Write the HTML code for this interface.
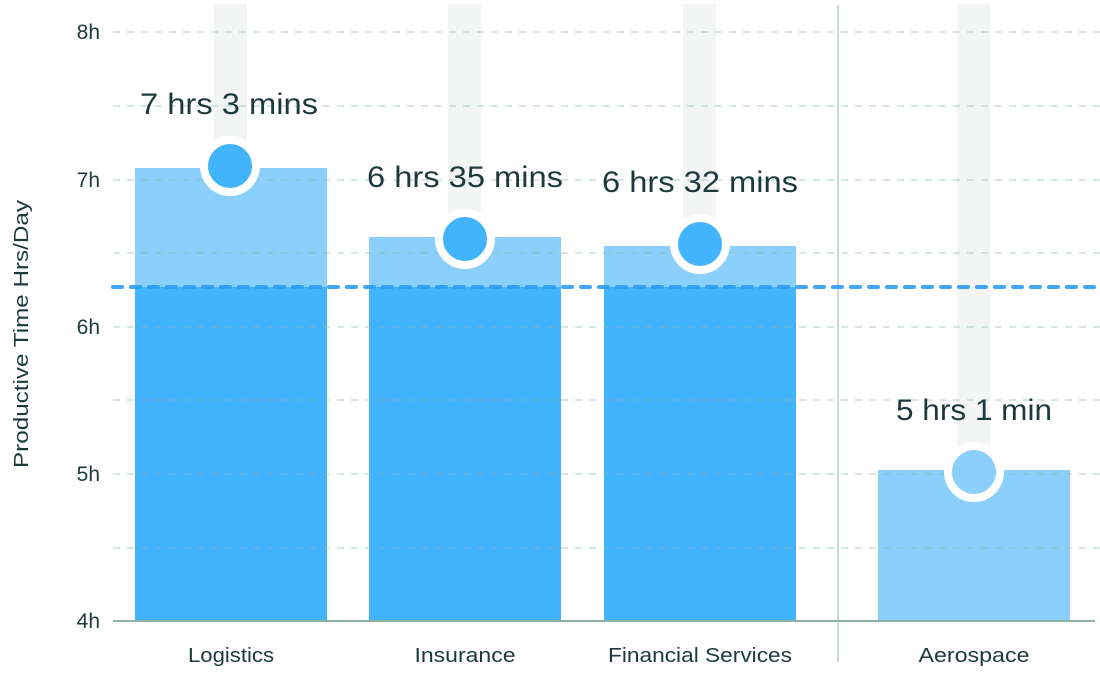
<!DOCTYPE html>
<html><head><meta charset="utf-8"><style>
html,body{margin:0;padding:0;background:#fff;}
svg{display:block;font-family:"Liberation Sans",sans-serif;}
</style></head><body>
<svg width="1100" height="680" viewBox="0 0 1100 680">
<g fill="#f2f5f4">
<rect x="214" y="4" width="33" height="160"/>
<rect x="448" y="4" width="33" height="235"/>
<rect x="683" y="4" width="33" height="240"/>
<rect x="957" y="4" width="33" height="470"/>
</g>
<g fill="#8bd0fc">
<rect x="135" y="168" width="192" height="453"/>
<rect x="369" y="237" width="192" height="384"/>
<rect x="604" y="246" width="192" height="375"/>
<rect x="878" y="470" width="192" height="151"/>
</g>
<g fill="#42b4fd">
<rect x="135" y="287" width="192" height="334"/>
<rect x="369" y="287" width="192" height="334"/>
<rect x="604" y="287" width="192" height="334"/>
</g>
<g stroke="#8fb8ab" stroke-width="1.3" stroke-dasharray="7,7" opacity="0.55">
<line x1="113" y1="32" x2="1100" y2="32"/>
<line x1="113" y1="106" x2="1100" y2="106"/>
<line x1="113" y1="180" x2="1100" y2="180"/>
<line x1="113" y1="253" x2="1100" y2="253"/>
<line x1="113" y1="327" x2="1100" y2="327"/>
<line x1="113" y1="400" x2="1100" y2="400"/>
<line x1="113" y1="474" x2="1100" y2="474"/>
<line x1="113" y1="548" x2="1100" y2="548"/>
</g>
<line x1="838" y1="5" x2="838" y2="662" stroke="#b5cdc6" stroke-width="1.5"/>
<line x1="113" y1="621" x2="1095" y2="621" stroke="#8fb0a8" stroke-width="2"/>
<line x1="113" y1="287" x2="1100" y2="287" stroke="#2e9cf4" stroke-width="4" stroke-dasharray="9,9" stroke-linecap="round" opacity="0.9"/>
<g stroke="#fff" stroke-width="8">
<circle cx="230" cy="166" r="26" fill="#42b4fd"/>
<circle cx="465" cy="239" r="26" fill="#42b4fd"/>
<circle cx="700" cy="244" r="26" fill="#42b4fd"/>
<circle cx="974" cy="472" r="26" fill="#8bd0fc"/>
</g>
<g fill="#1c3a3c" font-size="30" text-anchor="middle">
<text x="229" y="114" textLength="178" lengthAdjust="spacingAndGlyphs">7 hrs 3 mins</text>
<text x="465" y="187" textLength="196" lengthAdjust="spacingAndGlyphs">6 hrs 35 mins</text>
<text x="700" y="192" textLength="196" lengthAdjust="spacingAndGlyphs">6 hrs 32 mins</text>
<text x="974" y="420" textLength="156" lengthAdjust="spacingAndGlyphs">5 hrs 1 min</text>
</g>
<g fill="#1c3a3c" font-size="21" text-anchor="end">
<text x="100" y="39">8h</text>
<text x="100" y="187">7h</text>
<text x="100" y="334">6h</text>
<text x="100" y="481">5h</text>
<text x="100" y="628">4h</text>
</g>
<text transform="translate(28,334) rotate(-90)" fill="#1c3a3c" font-size="20" text-anchor="middle" textLength="268" lengthAdjust="spacingAndGlyphs">Productive Time Hrs/Day</text>
<g fill="#1c3a3c" font-size="20" text-anchor="middle">
<text x="231" y="662" textLength="86" lengthAdjust="spacingAndGlyphs">Logistics</text>
<text x="465" y="662" textLength="101" lengthAdjust="spacingAndGlyphs">Insurance</text>
<text x="700" y="662" textLength="184" lengthAdjust="spacingAndGlyphs">Financial Services</text>
<text x="974" y="662" textLength="111" lengthAdjust="spacingAndGlyphs">Aerospace</text>
</g>
</svg>
</body></html>
